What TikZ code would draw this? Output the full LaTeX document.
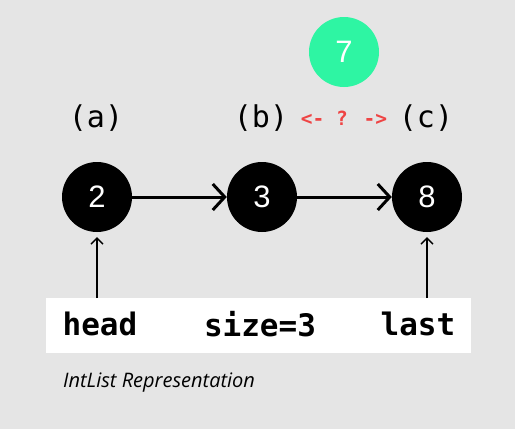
\documentclass[tikz,border=0pt]{standalone}
\usepackage{fontspec}
\setmainfont{Liberation Sans}
\newfontfamily\monofont{DejaVu Sans Mono}
\newfontfamily\numfont{Liberation Sans}
\newfontfamily\capfont{Open Sans}
\usetikzlibrary{arrows.meta}
\definecolor{bg}{HTML}{E5E5E5}
\definecolor{mint}{HTML}{2EF5A3}
\definecolor{warnred}{HTML}{EF4444}
\tikzset{
  listnode/.style={circle, fill=black, minimum size=70pt, inner sep=0pt, text=white, font=\numfont\fontsize{31}{32}\selectfont},
  newnode/.style={listnode, fill=mint},
  tag/.style={font=\monofont\fontsize{30}{32}\selectfont, inner sep=0pt},
  field/.style={font=\monofont\bfseries\fontsize{31}{32}\selectfont, inner sep=0pt},
  link/.style={line width=3pt, -{Straight Barb[length=12pt,width=26pt,line width=3pt]}},
  pointer/.style={line width=1.3pt, -{Straight Barb[length=6pt,width=12pt,line width=1.3pt]}}
}
\begin{document}
\begin{tikzpicture}[x=1pt,y=-1pt]
\fill[bg] (0,0) rectangle (515,429);
\useasboundingbox (0,0) rectangle (515,429);
\fill[white] (46,298) rectangle (471,353);
\node[newnode] (n7) at (344,52) {7};
\node[listnode] (n2) at (97,197) {2};
\node[listnode] (n3) at (262,197) {3};
\node[listnode] (n8) at (427,197) {8};
\node[tag] (la) at (96,118) {(a)};
\node[tag] (lb) at (261,118) {(b)};
\node[tag] (lc) at (426,118) {(c)};
\node[font=\monofont\bfseries\fontsize{19.5}{20}\selectfont, text=warnred, inner sep=0pt] (q) at (344,118) {<- ? ->};
\draw[link] (n2) -- (n3);
\draw[link] (n3) -- (n8);
\node[field] (head) at (100,324) {head};
\node[field] (size) at (260,324) {size=3};
\node[field] (last) at (418,324) {last};
\coordinate (ph) at (97,298);
\coordinate (pl) at (427,298);
\draw[pointer] (ph) -- ([yshift=-5pt]n2.south);
\draw[pointer] (pl) -- ([yshift=-5pt]n8.south);
\node[font=\capfont\itshape\fontsize{20}{22}\selectfont, anchor=west, inner sep=0pt] (cap) at (63,383) {IntList Representation};
\end{tikzpicture}
\end{document}
